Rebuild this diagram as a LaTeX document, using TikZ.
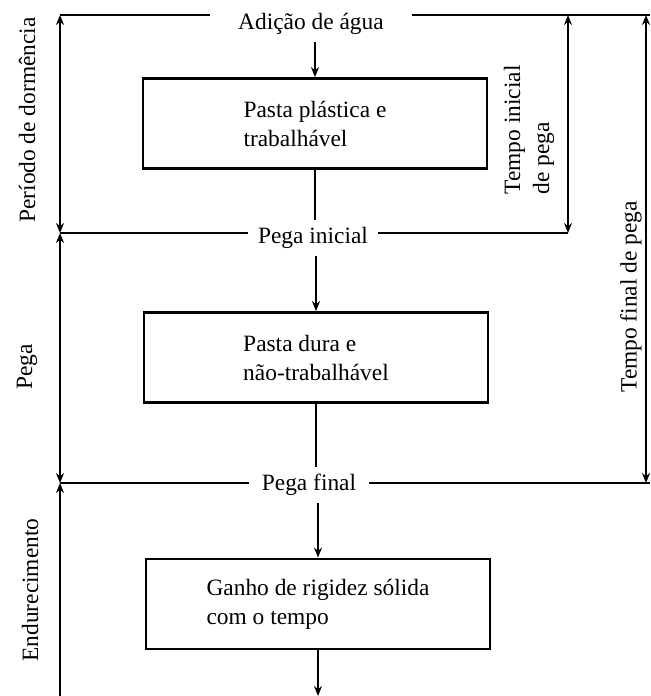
\documentclass[tikz,border=0pt]{standalone}
\usepackage{fontspec}
\setmainfont{Liberation Serif}
\usetikzlibrary{positioning, arrows.meta}

\begin{document}
\begin{tikzpicture}[
  x=0.5pt, y=-0.5pt,
  >={Stealth[length=5pt, width=4pt]},
  font=\fontsize{11.7}{14.5}\selectfont,
  line width=0.9pt,
  edge/.style={->},
  dim/.style={<->},
  box/.style={rectangle, draw, line width=1.4pt, minimum width=172pt, minimum height=45pt, align=left, inner sep=0pt},
  lbl/.style={inner xsep=4.5pt, inner ysep=3pt},
  side/.style={rotate=90, inner sep=0pt}
]
\useasboundingbox (0,0) rectangle (650,696);

% --- Nodes ---
\node[lbl, inner xsep=13.5pt] (add) at (311,24) {Adição de água};
\node[box] (b1) at (315,123.5) {Pasta plástica e\\trabalhável};

\node[lbl] (pi) at (313,238) {Pega inicial};
\node[box] (b2) at (316,357.5) {Pasta dura e\\não-trabalhável};

\node[lbl, inner xsep=6.2pt] (pf) at (309,485) {Pega final};
\node[box] (b3) at (318,604) {Ganho de rigidez sólida\\com o tempo};
\coordinate (bend) at (318,696);

% side labels
\node[side] (ldorm) at (27,120) {Período de dormência};
\node[side] (lpega) at (27,367) {Pega};
\node[side] (lend) at (30,590) {Endurecimento};
\node[side, align=left] (lti) at (529,130) {Tempo inicial\\de pega};
\node[side] (ltf) at (631,297) {Tempo final de pega};

% dimension ends
\coordinate (tl) at (60,15);
\coordinate (pil) at (60,233);
\coordinate (pfl) at (60,483);
\coordinate (bl) at (60,696);
\coordinate (tr) at (650,15);
\coordinate (ti1) at (568,15);
\coordinate (ti2) at (568,233);
\coordinate (tf1) at (646,15);
\coordinate (tf2) at (646,483);
\coordinate (pfr) at (650,483);

% --- Flow ---
\draw[edge] (add.south -| b1.north) -- (b1.north);
\draw (b1.south) -- (b1.south |- pi.north);
\draw[edge] (pi.south -| b2.north) -- (b2.north);
\draw (b2.south) -- (b2.south |- pf.north);
\draw[edge] (pf.south -| b3.north) -- (b3.north);
\draw[edge] (b3.south) -- (bend);

% --- Time lines ---
\draw (tl) -- (tl -| add.west);
\draw (tr -| add.east) -- (tr);
\draw (pil) -- (pil -| pi.west);
\draw (ti2 -| pi.east) -- (ti2);
\draw (pfl) -- (pfl -| pf.west);
\draw (pfr -| pf.east) -- (pfr);

% --- Dimensions ---
\draw[dim] (tl) -- (pil);
\draw[dim] (pil) -- (pfl);
\draw[<-] (pfl) -- (bl);
\draw[dim] (ti1) -- (ti2);
\draw[dim] (tf1) -- (tf2);

\end{tikzpicture}
\end{document}
